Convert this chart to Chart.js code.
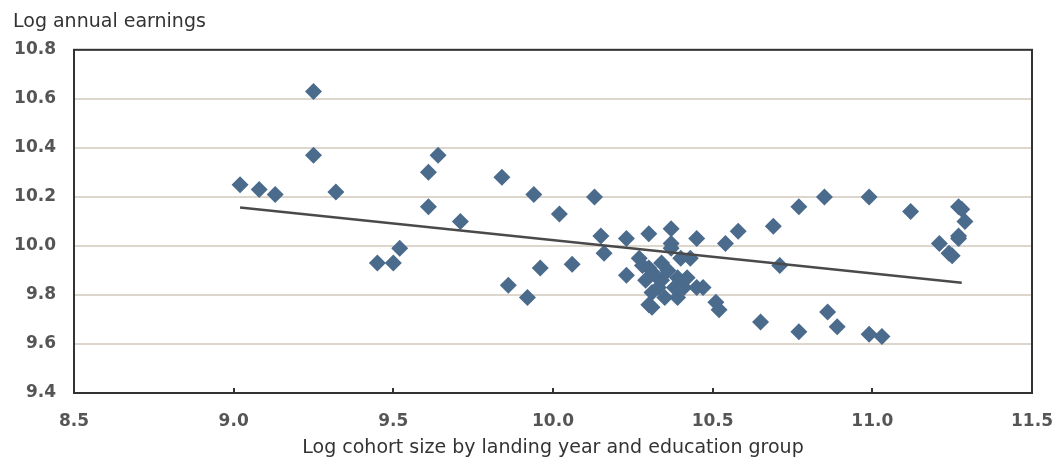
<!DOCTYPE html>
<html>
<head>
<meta charset="utf-8">
<script src="https://cdn.jsdelivr.net/npm/chart.js@4.4.1/dist/chart.umd.min.js"></script>
<style>
  body { margin: 0; background: #fff; }
  #wrap { width: 1056px; height: 459px; }
</style>
</head>
<body>
<div id="wrap"><canvas id="cohortChart"></canvas></div>
<script>
// log cohort size (x) and log annual earnings (y)
const cohortSize = [
  9.02, 9.08, 9.13, 9.25, 9.25, 9.32, 9.45, 9.50, 9.52, 9.61,
  9.64, 9.61, 9.71, 9.84, 9.94, 10.02, 10.13, 10.15, 10.16, 9.86,
  9.92, 9.96, 10.06, 10.23, 10.30, 10.37, 10.45, 10.37, 10.54, 10.58,
  10.69, 10.77, 10.85, 10.99, 10.71, 10.27, 10.23, 10.30, 10.34, 10.37,
  10.40, 10.43, 10.31, 10.30, 10.34, 10.39, 10.42, 10.45, 10.39, 10.33,
  10.31, 10.51, 10.52, 10.47, 10.65, 10.77, 10.86, 10.89, 10.99, 11.03,
  11.12, 11.21, 11.24, 11.25, 11.27, 11.28, 11.29, 11.27, 11.27, 10.40,
  10.28, 10.32, 10.36, 10.38, 10.35, 10.41, 10.29
];
const earnings = [
  10.25, 10.23, 10.21, 10.63, 10.37, 10.22, 9.93, 9.93, 9.99, 10.30,
  10.37, 10.16, 10.10, 10.28, 10.21, 10.13, 10.20, 10.04, 9.97, 9.84,
  9.79, 9.91, 9.925, 10.03, 10.05, 10.07, 10.03, 10.01, 10.01, 10.06,
  10.08, 10.16, 10.20, 10.20, 9.92, 9.95, 9.88, 9.91, 9.93, 9.99,
  9.95, 9.95, 9.81, 9.76, 9.86, 9.87, 9.87, 9.83, 9.79, 9.83,
  9.75, 9.77, 9.74, 9.83, 9.69, 9.65, 9.73, 9.67, 9.64, 9.63,
  10.14, 10.01, 9.97, 9.96, 10.16, 10.15, 10.10, 10.04, 10.03, 9.85,
  9.92, 9.88, 9.90, 9.83, 9.79, 9.83, 9.86
];
// fitted line end points
const trendX = [9.02, 11.28];
const trendY = [10.157, 9.85];

const xTicks = [8.5, 9.0, 9.5, 10.0, 10.5, 11.0, 11.5];
const yTicks = [9.4, 9.6, 9.8, 10.0, 10.2, 10.4, 10.6, 10.8];

const tickFont = { family: "'DejaVu Sans', Verdana, sans-serif", size: 17, weight: 'bold' };
const titleFont = { family: "'DejaVu Sans', Verdana, sans-serif", size: 19, weight: 'normal' };

// box round the plot and small inward ticks on the bottom axis
const frame = {
  id: 'frame',
  afterDraw(chart) {
    const {ctx, chartArea: a, scales: {x}} = chart;
    ctx.save();
    ctx.strokeStyle = '#333';
    ctx.lineWidth = 2;
    ctx.strokeRect(a.left, a.top, a.right - a.left, a.bottom - a.top);
    ctx.beginPath();
    xTicks.slice(1, -1).forEach(v => {
      const px = Math.round(x.getPixelForValue(v));
      ctx.moveTo(px, a.bottom);
      ctx.lineTo(px, a.bottom - 5);
    });
    ctx.stroke();
    ctx.restore();
  }
};

new Chart(document.getElementById('cohortChart'), {
  type: 'scatter',
  data: {
    datasets: [{
      label: 'Cohorts',
      data: cohortSize.map((v, i) => ({x: v, y: earnings[i]})),
      pointStyle: 'rectRot',
      pointRadius: 8.5,
      pointHoverRadius: 8.5,
      backgroundColor: '#4b6b8d',
      borderColor: '#4b6b8d',
      borderWidth: 0,
      order: 2
    }, {
      type: 'line',
      label: 'Trend',
      data: trendX.map((v, i) => ({x: v, y: trendY[i]})),
      borderColor: '#4a4a4a',
      borderWidth: 2.5,
      pointRadius: 0,
      fill: false,
      order: 1
    }]
  },
  options: {
    responsive: true,
    maintainAspectRatio: false,
    animation: false,
    layout: {
      padding: {left: 13, right: 0, top: 6, bottom: 0}
    },
    plugins: {
      legend: {display: false},
      tooltip: {enabled: false},
      title: {
        display: true,
        text: 'Log annual earnings',
        align: 'start',
        color: '#333',
        font: titleFont,
        padding: {top: 5, bottom: 16}
      }
    },
    scales: {
      x: {
        type: 'linear',
        min: 8.5,
        max: 11.5,
        afterBuildTicks: (s) => { s.ticks = xTicks.map(v => ({value: v})); },
        afterFit: (s) => { s.height = 66; s.paddingLeft = 0; s.paddingRight = 24; },
        ticks: {
          color: '#555',
          font: tickFont,
          padding: 18,
          callback: (v) => v.toFixed(1)
        },
        grid: {display: false, drawTicks: false},
        border: {display: false},
        title: {
          display: true,
          text: 'Log cohort size by landing year and education group',
          color: '#333',
          font: titleFont,
          padding: {top: 0, bottom: 0}
        }
      },
      y: {
        min: 9.4,
        max: 10.8,
        afterBuildTicks: (s) => { s.ticks = yTicks.map(v => ({value: v})); },
        afterFit: (s) => { s.width = 61; },
        ticks: {
          color: '#555',
          font: tickFont,
          padding: 18,
          callback: (v) => v.toFixed(1)
        },
        grid: {color: '#dcd6cd', lineWidth: 2, drawTicks: false},
        border: {display: false}
      }
    }
  },
  plugins: [frame]
});
</script>
</body>
</html>
